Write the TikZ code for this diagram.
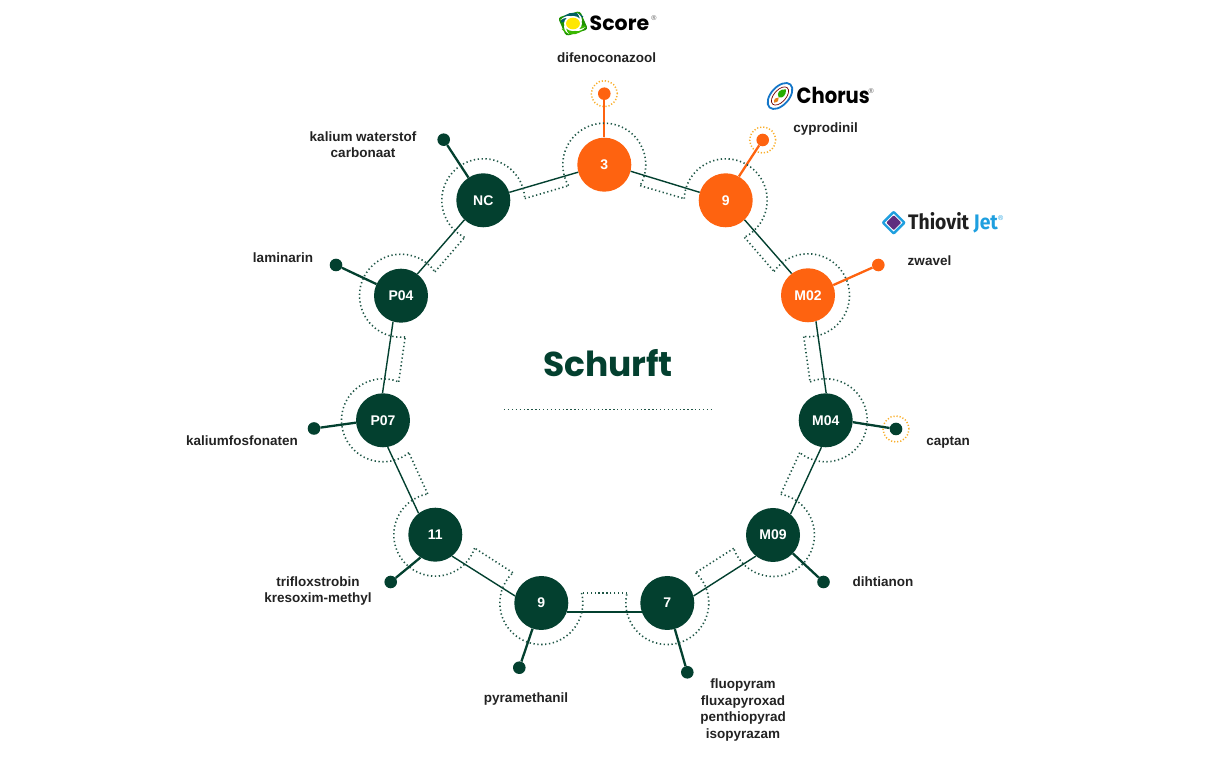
\documentclass[tikz,border=0pt]{standalone}
\usepackage{fontspec}
\setmainfont{Liberation Sans}
\newfontfamily\popfont{Poppins}
\newfontfamily\firafont{Fira Sans}
\usetikzlibrary{calc}
\definecolor{dgreen}{HTML}{03402F}
\definecolor{ringgreen}{HTML}{1F5646}
\definecolor{orng}{HTML}{FE6310}
\definecolor{halo}{HTML}{F9AE2B}
\definecolor{labelc}{HTML}{222222}
\definecolor{jetblue}{HTML}{1E9FDF}
\definecolor{thiopurple}{HTML}{5F2D7F}
\definecolor{chorusblue}{HTML}{1577C9}
\tikzset{
  x=1pt,y=1pt,
  hub/.style={circle,minimum size=54pt,inner sep=0pt,text=white,font=\fontsize{14}{14}\selectfont\bfseries},
  hubgreen/.style={hub,fill=dgreen},
  huborange/.style={hub,fill=orng},
  tipdot/.style={circle,minimum size=12.6pt,inner sep=0pt},
  tipgreen/.style={tipdot,fill=dgreen},
  tiporange/.style={tipdot,fill=orng},
  link/.style={draw=dgreen,line width=1.4pt},
  stemgreen/.style={draw=dgreen,line width=2.3pt},
  stemorange/.style={draw=orng,line width=2.3pt},
  dotline/.style={draw=ringgreen,line width=1.6pt,dash pattern=on 1.3pt off 2.6pt},
  haloring/.style={draw=halo,line width=1.5pt,dash pattern=on 1.2pt off 1.9pt},
  lbl/.style={text=labelc,align=center,inner sep=0pt,font=\fontsize{13.5}{16.5}\selectfont\bfseries},
}
\newcommand{\ringarc}[3]{%
  \pgfmathsetmacro{\ringS}{#2+194}\pgfmathsetmacro{\ringE}{#3-14}%
  \draw[dotline] ($(#1.center)+(\ringS:41.5)$) arc[start angle=\ringS,end angle=\ringE,radius=41.5];}
\newcommand{\dotlink}[3]{%
  \pgfmathsetmacro{\linkS}{#3-14}\pgfmathsetmacro{\linkE}{#3+194}%
  \draw[dotline] ($(#1.center)+(\linkS:41.5)$) -- ($(#2.center)+(\linkE:41.5)$);}
\begin{document}
\begin{tikzpicture}
\useasboundingbox (0,0) rectangle (1216,760);
% hubs
\node[huborange] (a) at (604.3,595.3) {3};
\node[huborange] (b) at (725.7,559.7) {9};
\node[huborange] (c) at (808,464.7) {M02};
\node[hubgreen] (d) at (825.7,339.7) {M04};
\node[hubgreen] (e) at (773,225) {M09};
\node[hubgreen] (f) at (667.3,157) {7};
\node[hubgreen] (g) at (541.3,157) {9};
\node[hubgreen] (h) at (435.3,225.3) {11};
\node[hubgreen] (i) at (383,339.7) {P07};
\node[hubgreen] (j) at (401,464.3) {P04};
\node[hubgreen] (k) at (483.3,559.7) {NC};
% tips
\node[tiporange] (ta) at (604.3,666.3) {};
\node[tiporange] (tb) at (762.7,620) {};
\node[tiporange] (tc) at (878.3,495) {};
\node[tipgreen] (td) at (896,331) {};
\node[tipgreen] (te) at (823.5,178) {};
\node[tipgreen] (tf) at (687.3,87.7) {};
\node[tipgreen] (tg) at (519.3,92.3) {};
\node[tipgreen] (th) at (390.7,178) {};
\node[tipgreen] (ti) at (314,331.5) {};
\node[tipgreen] (tj) at (336,495) {};
\node[tipgreen] (tk) at (443.7,620.3) {};
% halos
\draw[haloring] (ta.center) circle (13);
\draw[haloring] (tb.center) circle (13);
\draw[haloring] (td.center) circle (13);
% connectors
\draw[link] (a.-14.5)--(b.163.1);
\draw[link] (b.-46)--(c.127.4);
\draw[link] (c.-73.3)--(d.89.4);
\draw[link] (d.-99.7)--(e.50.7);
\draw[link] (e.-129.3)--(f.15.1);
\draw[link] (f.199.4)--(g.-19.4);
\draw[link] (g.165.1)--(h.-52.3);
\draw[link] (h.128.5)--(i.-80.1);
\draw[link] (i.91.5)--(j.-107.3);
\draw[link] (j.53.3)--(k.-134.4);
\draw[link] (k.17.9)--(a.196.3);
% stems
\draw[stemorange] (a)--(ta); \draw[stemorange] (b.61)--(tb); \draw[stemorange] (c.22)--(tc);
\draw[stemgreen] (d.-4.5)--(td); \draw[stemgreen] (e)--(te); \draw[stemgreen] (f)--(tf);
\draw[stemgreen] (g)--(tg); \draw[stemgreen] (h.-123.7)--(th); \draw[stemgreen] (i.185)--(ti);
\draw[stemgreen] (j)--(tj); \draw[stemgreen] (k)--(tk);
% dotted rings
\ringarc{a}{16.4}{-16.3}
\ringarc{b}{-16.3}{-49.1}
\ringarc{c}{-49.1}{-81.9}
\ringarc{d}{-81.9}{-114.7}
\ringarc{e}{-114.7}{-147.2}
\ringarc{f}{-147.2}{-180}
\ringarc{g}{180}{147.2}
\ringarc{h}{147.2}{114.6}
\ringarc{i}{114.6}{81.8}
\ringarc{j}{81.8}{49.2}
\ringarc{k}{49.2}{16.4}
\dotlink{a}{b}{-16.3}
\dotlink{b}{c}{-49.1}
\dotlink{c}{d}{-81.9}
\dotlink{d}{e}{-114.7}
\dotlink{e}{f}{-147.2}
\dotlink{f}{g}{-180}
\dotlink{g}{h}{147.2}
\dotlink{h}{i}{114.6}
\dotlink{i}{j}{81.8}
\dotlink{j}{k}{49.2}
\dotlink{k}{a}{16.4}
% centre
\node[text=dgreen,inner sep=0pt,font=\popfont\fontsize{34.5}{34}\selectfont\bfseries] (title) at (608,397) {Schurft};
\coordinate (ruleL) at (504,350.3);
\coordinate (ruleR) at (712,350.3);
\draw[dotline] (ruleL)--(ruleR);
% labels
\node[lbl] (la) at (606.5,702) {difenoconazool};
\node[lbl] (lb) at (825.5,630.5) {cyprodinil};
\node[lbl] (lc) at (929.5,499.5) {zwavel};
\node[lbl] (ld) at (948,317.5) {captan};
\node[lbl] (le) at (883,178) {dihtianon};
\node[lbl] (lf) at (743,50) {fluopyram\\fluxapyroxad\\penthiopyrad\\isopyrazam};
\node[lbl] (lg) at (526,61) {pyramethanil};
\node[lbl] (lh) at (318,169) {trifloxstrobin\\kresoxim-methyl};
\node[lbl] (li) at (242,319) {kaliumfosfonaten};
\node[lbl] (lj) at (283,502) {laminarin};
\node[lbl] (lk) at (363,615.5) {kalium waterstof\\carbonaat};
% Score logo
\begin{scope}[shift={(573,736.5)},xscale=1.12,yscale=.94]
  \fill[fill=green!50!black!85!lime,rotate=20,rounded corners=3pt] (-10.5,-10.5) rectangle (10.5,10.5);
  \fill[fill=teal!75!black] (-11,1) arc[start angle=175,end angle=40,radius=11.5] -- (4,4) -- cycle;
  \fill[fill=green!60!black!70!lime] (11,-2) arc[start angle=-10,end angle=-150,radius=11.5] -- (-3,-4) -- cycle;
  \foreach \r in {0,90,180,270}{
    \fill[white,rotate=\r] (7,0) .. controls (9,4) and (8,8) .. (3.5,11.5) .. controls (6.5,7.5) and (6.5,4) .. (5.5,1.5) -- cycle;}
  \fill[white] (0,0) circle (8);
  \fill[fill=yellow!90!orange] (0,0) circle (6.2);
\end{scope}
\node[anchor=base west,inner sep=0pt,text=black,font=\popfont\fontsize{20.5}{20}\selectfont\bfseries] (score) at (589.5,729) {Score};
\node[anchor=center,inner sep=0pt,text=black!65,font=\fontsize{7}{7}\selectfont] (scorer) at (654,741.7) {®};
% Chorus logo
\begin{scope}[shift={(780,664)},rotate=48]
  \draw[draw=chorusblue,line width=1.8pt] (0,0) ellipse (15.5 and 9);
  \draw[draw=red!45!black,line width=.7pt] (0,0) ellipse (11 and 6);
  \fill[fill=green!60!black!80!lime] (-2,0) .. controls (0,5) and (5,5) .. (9,0) .. controls (5,-4) and (0,-4) .. cycle;
  \fill[fill=orange!60!brown] (-9,0) .. controls (-6,3) and (-4,2) .. (-2,0) .. controls (-4,-2) and (-6,-3) .. cycle;
\end{scope}
\node[anchor=base west,inner sep=0pt,text=black,font=\popfont\fontsize{22}{20}\selectfont\bfseries] (chorus) at (796.5,656) {\scalebox{.89}[1]{Chorus}};
\node[anchor=center,inner sep=0pt,text=black!65,font=\fontsize{7}{7}\selectfont] (chorusr) at (871.3,669.3) {®};
% Thiovit logo
\begin{scope}[shift={(893.7,537.3)},rotate=45]
  \fill[fill=jetblue,rounded corners=2pt] (-8.8,-8.8) rectangle (8.8,8.8);
  \fill[white] (-6.2,-6.2) rectangle (6.2,6.2);
  \fill[fill=thiopurple,rounded corners=.8pt] (-5.3,-5.3) rectangle (5.3,5.3);
\end{scope}
\node[anchor=base west,inner sep=0pt,text=black!88,font=\firafont\fontsize{21}{20}\selectfont\bfseries] (thiovit) at (908,530) {\scalebox{.92}[1]{Thiovit}};
\node[anchor=base west,inner sep=0pt,text=jetblue,font=\firafont\fontsize{21}{20}\selectfont\bfseries] (jet) at (973.5,530) {\scalebox{.92}[1]{Jet}};
\node[anchor=center,inner sep=0pt,text=jetblue,font=\fontsize{7}{7}\selectfont] (jetr) at (1000.7,541.7) {®};
\end{tikzpicture}
\end{document}
